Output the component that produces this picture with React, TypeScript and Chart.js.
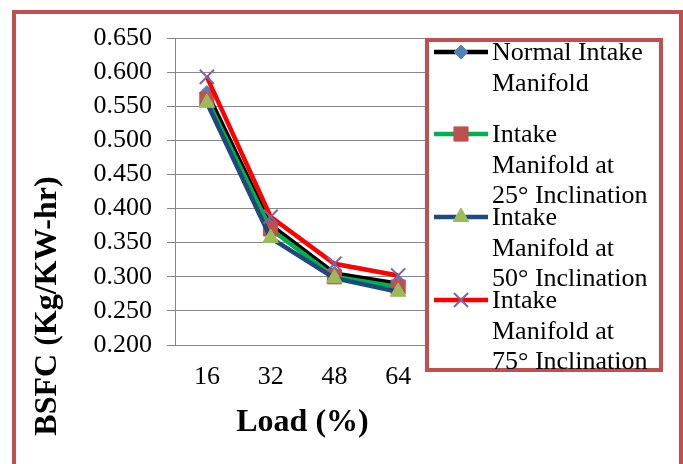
import React, { useEffect, useRef } from "react";
import { Chart, registerables } from "chart.js";

Chart.register(...registerables);

const categories = ["16", "32", "48", "64"];
const normalIntake = [0.57, 0.376, 0.305, 0.29];
const inclination25 = [0.56, 0.37, 0.3, 0.285];
const inclination50 = [0.555, 0.357, 0.298, 0.278];
const inclination75 = [0.593, 0.388, 0.319, 0.302];

const yMin = 0.2;
const yMax = 0.65;
const yStep = 0.05;

const legendLines = [
  ["Normal Intake", "Manifold"],
  ["Intake", "Manifold at", "25° Inclination"],
  ["Intake", "Manifold at", "50° Inclination"],
  ["Intake", "Manifold at", "75° Inclination"],
];
const seriesNames = [
  "Normal Intake Manifold",
  "Intake Manifold at 25° Inclination",
  "Intake Manifold at 50° Inclination",
  "Intake Manifold at 75° Inclination",
];
const xTitle = "Load (%)";
const yTitle = "BSFC (Kg/KW-hr)";

const FONT = "'Liberation Serif', 'Times New Roman', serif";

function drawMarker(
  ctx: CanvasRenderingContext2D,
  style: string,
  x: number,
  y: number,
  r: number,
  fill: string,
  stroke: string,
  bw: number
) {
  ctx.save();
  ctx.fillStyle = fill;
  ctx.strokeStyle = stroke;
  ctx.lineWidth = bw;
  ctx.beginPath();
  if (style === "rectRot") {
    ctx.moveTo(x - r, y);
    ctx.lineTo(x, y - r);
    ctx.lineTo(x + r, y);
    ctx.lineTo(x, y + r);
    ctx.closePath();
    ctx.fill();
    ctx.stroke();
  } else if (style === "rect") {
    const s = r * Math.SQRT1_2;
    ctx.rect(x - s, y - s, 2 * s, 2 * s);
    ctx.fill();
    ctx.stroke();
  } else if (style === "triangle") {
    for (let i = 0; i < 3; i++) {
      const a = (i * 2 * Math.PI) / 3;
      const px = x + Math.sin(a) * r;
      const py = y - Math.cos(a) * r;
      if (i === 0) ctx.moveTo(px, py);
      else ctx.lineTo(px, py);
    }
    ctx.closePath();
    ctx.fill();
    ctx.stroke();
  } else if (style === "crossRot") {
    const s = r * Math.SQRT1_2;
    ctx.moveTo(x - s, y - s);
    ctx.lineTo(x + s, y + s);
    ctx.moveTo(x - s, y + s);
    ctx.lineTo(x + s, y - s);
    ctx.stroke();
  }
  ctx.restore();
}

const decorPlugin = {
  id: "decor",
  afterDraw(chart: any) {
    const ctx: CanvasRenderingContext2D = chart.ctx;
    const area = chart.chartArea;
    ctx.save();
    // X axis title
    ctx.fillStyle = "#000";
    ctx.font = `bold 32px ${FONT}`;
    ctx.textAlign = "center";
    ctx.textBaseline = "alphabetic";
    ctx.fillText(xTitle, (area.left + area.right) / 2, 431);
    // Y axis title
    ctx.save();
    ctx.translate(56, 306);
    ctx.rotate(-Math.PI / 2);
    ctx.fillText(yTitle, 0, 0);
    ctx.restore();

    // Legend box
    const bx = 425, by = 38, bw = 238, bh = 334;
    ctx.fillStyle = "#fff";
    ctx.fillRect(bx, by, bw, bh);
    ctx.strokeStyle = "#C0504D";
    ctx.lineWidth = 4;
    ctx.strokeRect(bx + 2, by + 2, bw - 4, bh - 4);

    const itemY = [52, 134, 217, 300];
    chart.data.datasets.forEach((ds: any, i: number) => {
      const ly = itemY[i];
      ctx.strokeStyle = ds.borderColor;
      ctx.lineWidth = ds.borderWidth;
      ctx.beginPath();
      ctx.moveTo(434, ly);
      ctx.lineTo(488, ly);
      ctx.stroke();
      drawMarker(
        ctx,
        ds.pointStyle,
        461,
        ly,
        ds.pointRadius,
        ds.pointBackgroundColor,
        ds.pointBorderColor,
        ds.pointBorderWidth
      );
      ctx.fillStyle = "#000";
      ctx.font = `26px ${FONT}`;
      ctx.textAlign = "left";
      ctx.textBaseline = "alphabetic";
      legendLines[i].forEach((t, j) => {
        ctx.fillText(t, 492, ly + 8 + j * 30.5);
      });
    });
    ctx.restore();
  },
};

export default function App() {
  const canvasRef = useRef<HTMLCanvasElement | null>(null);

  useEffect(() => {
    if (!canvasRef.current) return;
    const chart = new Chart(canvasRef.current, {
      type: "line",
      data: {
        labels: categories,
        datasets: [
          {
            label: seriesNames[0],
            data: normalIntake,
            borderColor: "#000000",
            borderWidth: 4.5,
            pointStyle: "rectRot",
            pointRadius: 7,
            pointBackgroundColor: "#4F81BD",
            pointBorderColor: "#4F81BD",
            pointBorderWidth: 1,
            order: 4,
          },
          {
            label: seriesNames[1],
            data: inclination25,
            borderColor: "#00B050",
            borderWidth: 4.5,
            pointStyle: "rect",
            pointRadius: 10,
            pointBackgroundColor: "#C0504D",
            pointBorderColor: "#C0504D",
            pointBorderWidth: 1,
            order: 3,
          },
          {
            label: seriesNames[2],
            data: inclination50,
            borderColor: "#1F497D",
            borderWidth: 4.5,
            pointStyle: "triangle",
            pointRadius: 9,
            pointBackgroundColor: "#9BBB59",
            pointBorderColor: "#9BBB59",
            pointBorderWidth: 1,
            order: 2,
          },
          {
            label: seriesNames[3],
            data: inclination75,
            borderColor: "#FF0000",
            borderWidth: 4.5,
            pointStyle: "crossRot",
            pointRadius: 10,
            pointBackgroundColor: "#8064A2",
            pointBorderColor: "#8064A2",
            pointBorderWidth: 2,
            order: 1,
          },
        ],
      },
      options: {
        responsive: false,
        animation: false,
        layout: { padding: { top: 38, right: 253, bottom: 0, left: 0 } },
        plugins: {
          legend: { display: false },
          tooltip: { enabled: false },
        },
        elements: { line: { tension: 0 } },
        scales: {
          x: {
            type: "category",
            offset: true,
            grid: { display: false, drawTicks: false },
            border: { display: true, color: "#878787", width: 1 },
            ticks: {
              color: "#000",
              padding: 17,
              font: { family: FONT, size: 26 },
              maxRotation: 0,
              autoSkip: false,
            },
            afterFit: (scale: any) => {
              scale.height = 119;
            },
          },
          y: {
            min: yMin,
            max: yMax,
            grid: {
              color: "#878787",
              lineWidth: 1,
              tickLength: 8,
              drawTicks: true,
            },
            border: { display: true, color: "#878787", width: 1 },
            ticks: {
              stepSize: yStep,
              autoSkip: false,
              color: "#000",
              padding: 15,
              font: { family: FONT, size: 26 },
              callback: (v: any) => Number(v).toFixed(3),
            },
            afterFit: (scale: any) => {
              scale.width = 175;
            },
          },
        },
      },
      plugins: [decorPlugin],
    });
    return () => chart.destroy();
  }, []);

  return (
    <div
      style={{
        position: "absolute",
        left: 0,
        top: 0,
        width: 683,
        height: 464,
        background: "#fff",
        overflow: "hidden",
      }}
    >
      <canvas ref={canvasRef} width={683} height={464} style={{ display: "block" }} />
      <div
        style={{
          position: "absolute",
          left: 12,
          top: 10,
          width: 671,
          height: 470,
          border: "4px solid #C0504D",
          boxSizing: "border-box",
          pointerEvents: "none",
        }}
      />
    </div>
  );
}
